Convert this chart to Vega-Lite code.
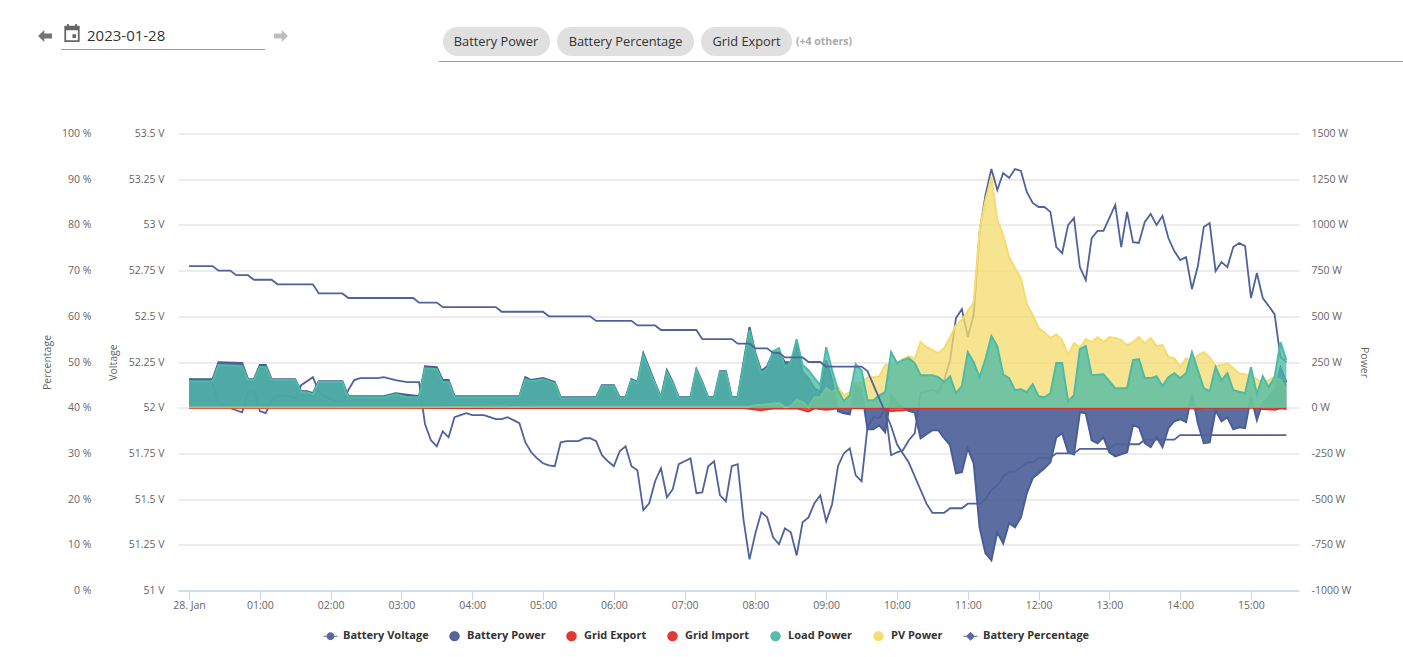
{
  "$schema": "https://vega.github.io/schema/vega-lite/v6.json",
  "description": "Inverter day view for 2023-01-28: battery voltage and percentage, battery, grid, load and PV power.",
  "autosize": {"type": "none"},
  "padding": {"left": 178, "top": 133.5, "right": 104, "bottom": 66.5},
  "width": 1121,
  "height": 457,
  "background": "white",
  "config": {
    "view": {"stroke": null},
    "axis": {"labelFont": "Open Sans", "titleFont": "Open Sans", "labelColor": "#666666", "titleColor": "#666666", "labelFontSize": 10.5, "titleFontSize": 10.5, "titleFontWeight": "normal"}
  },
  "datasets": {
    "voltage": [
      {"t":"2023-01-28T00:00","value":52.156},{"t":"2023-01-28T00:05","value":52.151},{"t":"2023-01-28T00:10","value":52.151},{"t":"2023-01-28T00:15","value":52.151},
      {"t":"2023-01-28T00:20","value":52.134},{"t":"2023-01-28T00:25","value":52.025},{"t":"2023-01-28T00:30","value":52.014},{"t":"2023-01-28T00:35","value":51.997},
      {"t":"2023-01-28T00:40","value":51.986},{"t":"2023-01-28T00:45","value":51.975},{"t":"2023-01-28T00:50","value":52.085},{"t":"2023-01-28T00:55","value":52.096},
      {"t":"2023-01-28T01:00","value":51.981},{"t":"2023-01-28T01:05","value":51.970},{"t":"2023-01-28T01:10","value":52.041},{"t":"2023-01-28T01:15","value":52.063},
      {"t":"2023-01-28T01:20","value":52.068},{"t":"2023-01-28T01:25","value":52.063},{"t":"2023-01-28T01:30","value":52.052},{"t":"2023-01-28T01:35","value":52.123},
      {"t":"2023-01-28T01:40","value":52.145},{"t":"2023-01-28T01:45","value":52.167},{"t":"2023-01-28T01:50","value":52.090},{"t":"2023-01-28T01:55","value":52.063},
      {"t":"2023-01-28T02:00","value":52.047},{"t":"2023-01-28T02:05","value":52.036},{"t":"2023-01-28T02:10","value":52.030},{"t":"2023-01-28T02:15","value":52.096},
      {"t":"2023-01-28T02:20","value":52.151},{"t":"2023-01-28T02:25","value":52.162},{"t":"2023-01-28T02:30","value":52.162},{"t":"2023-01-28T02:35","value":52.162},
      {"t":"2023-01-28T02:40","value":52.162},{"t":"2023-01-28T02:45","value":52.167},{"t":"2023-01-28T02:50","value":52.159},{"t":"2023-01-28T02:55","value":52.151},
      {"t":"2023-01-28T03:00","value":52.145},{"t":"2023-01-28T03:05","value":52.140},{"t":"2023-01-28T03:10","value":52.140},{"t":"2023-01-28T03:15","value":52.140},
      {"t":"2023-01-28T03:20","value":51.910},{"t":"2023-01-28T03:25","value":51.822},{"t":"2023-01-28T03:30","value":51.789},{"t":"2023-01-28T03:35","value":51.871},
      {"t":"2023-01-28T03:40","value":51.838},{"t":"2023-01-28T03:45","value":51.948},{"t":"2023-01-28T03:50","value":51.959},{"t":"2023-01-28T03:55","value":51.970},
      {"t":"2023-01-28T04:00","value":51.959},{"t":"2023-01-28T04:05","value":51.959},{"t":"2023-01-28T04:10","value":51.959},{"t":"2023-01-28T04:15","value":51.948},
      {"t":"2023-01-28T04:20","value":51.937},{"t":"2023-01-28T04:25","value":51.937},{"t":"2023-01-28T04:30","value":51.948},{"t":"2023-01-28T04:35","value":51.932},
      {"t":"2023-01-28T04:40","value":51.915},{"t":"2023-01-28T04:45","value":51.811},{"t":"2023-01-28T04:50","value":51.756},{"t":"2023-01-28T04:55","value":51.723},
      {"t":"2023-01-28T05:00","value":51.696},{"t":"2023-01-28T05:05","value":51.685},{"t":"2023-01-28T05:10","value":51.680},{"t":"2023-01-28T05:15","value":51.811},
      {"t":"2023-01-28T05:20","value":51.817},{"t":"2023-01-28T05:25","value":51.817},{"t":"2023-01-28T05:30","value":51.817},{"t":"2023-01-28T05:35","value":51.833},
      {"t":"2023-01-28T05:40","value":51.833},{"t":"2023-01-28T05:45","value":51.817},{"t":"2023-01-28T05:50","value":51.740},{"t":"2023-01-28T05:55","value":51.707},
      {"t":"2023-01-28T06:00","value":51.680},{"t":"2023-01-28T06:05","value":51.762},{"t":"2023-01-28T06:10","value":51.789},{"t":"2023-01-28T06:15","value":51.680},
      {"t":"2023-01-28T06:20","value":51.658},{"t":"2023-01-28T06:25","value":51.439},{"t":"2023-01-28T06:30","value":51.477},{"t":"2023-01-28T06:35","value":51.598},
      {"t":"2023-01-28T06:40","value":51.669},{"t":"2023-01-28T06:45","value":51.510},{"t":"2023-01-28T06:50","value":51.554},{"t":"2023-01-28T06:55","value":51.691},
      {"t":"2023-01-28T07:00","value":51.707},{"t":"2023-01-28T07:05","value":51.723},{"t":"2023-01-28T07:10","value":51.532},{"t":"2023-01-28T07:15","value":51.537},
      {"t":"2023-01-28T07:20","value":51.680},{"t":"2023-01-28T07:25","value":51.707},{"t":"2023-01-28T07:30","value":51.521},{"t":"2023-01-28T07:35","value":51.488},
      {"t":"2023-01-28T07:40","value":51.680},{"t":"2023-01-28T07:45","value":51.691},{"t":"2023-01-28T07:50","value":51.384},{"t":"2023-01-28T07:55","value":51.170},
      {"t":"2023-01-28T08:00","value":51.313},{"t":"2023-01-28T08:05","value":51.428},{"t":"2023-01-28T08:10","value":51.400},{"t":"2023-01-28T08:15","value":51.291},
      {"t":"2023-01-28T08:20","value":51.253},{"t":"2023-01-28T08:25","value":51.340},{"t":"2023-01-28T08:30","value":51.318},{"t":"2023-01-28T08:35","value":51.192},
      {"t":"2023-01-28T08:40","value":51.373},{"t":"2023-01-28T08:45","value":51.400},{"t":"2023-01-28T08:50","value":51.477},{"t":"2023-01-28T08:55","value":51.521},
      {"t":"2023-01-28T09:00","value":51.378},{"t":"2023-01-28T09:05","value":51.472},{"t":"2023-01-28T09:10","value":51.680},{"t":"2023-01-28T09:15","value":51.751},
      {"t":"2023-01-28T09:20","value":51.778},{"t":"2023-01-28T09:25","value":51.630},{"t":"2023-01-28T09:30","value":51.598},{"t":"2023-01-28T09:35","value":51.893},
      {"t":"2023-01-28T09:40","value":51.948},{"t":"2023-01-28T09:45","value":51.943},{"t":"2023-01-28T09:50","value":51.997},{"t":"2023-01-28T09:55","value":51.740},
      {"t":"2023-01-28T10:00","value":51.756},{"t":"2023-01-28T10:05","value":51.767},{"t":"2023-01-28T10:10","value":51.822},{"t":"2023-01-28T10:15","value":51.860},
      {"t":"2023-01-28T10:20","value":52.079},{"t":"2023-01-28T10:25","value":52.090},{"t":"2023-01-28T10:30","value":52.096},{"t":"2023-01-28T10:35","value":52.085},
      {"t":"2023-01-28T10:40","value":52.151},{"t":"2023-01-28T10:45","value":52.260},{"t":"2023-01-28T10:50","value":52.490},{"t":"2023-01-28T10:55","value":52.539},
      {"t":"2023-01-28T11:00","value":52.386},{"t":"2023-01-28T11:05","value":52.507},{"t":"2023-01-28T11:10","value":52.961},{"t":"2023-01-28T11:15","value":53.164},
      {"t":"2023-01-28T11:20","value":53.306},{"t":"2023-01-28T11:25","value":53.191},{"t":"2023-01-28T11:30","value":53.284},{"t":"2023-01-28T11:35","value":53.257},
      {"t":"2023-01-28T11:40","value":53.306},{"t":"2023-01-28T11:45","value":53.295},{"t":"2023-01-28T11:50","value":53.180},{"t":"2023-01-28T11:55","value":53.120},
      {"t":"2023-01-28T12:00","value":53.098},{"t":"2023-01-28T12:05","value":53.098},{"t":"2023-01-28T12:10","value":53.071},{"t":"2023-01-28T12:15","value":52.879},
      {"t":"2023-01-28T12:20","value":52.846},{"t":"2023-01-28T12:25","value":52.999},{"t":"2023-01-28T12:30","value":53.038},{"t":"2023-01-28T12:35","value":52.769},
      {"t":"2023-01-28T12:40","value":52.698},{"t":"2023-01-28T12:45","value":52.928},{"t":"2023-01-28T12:50","value":52.967},{"t":"2023-01-28T12:55","value":52.967},
      {"t":"2023-01-28T13:00","value":53.038},{"t":"2023-01-28T13:05","value":53.109},{"t":"2023-01-28T13:10","value":52.879},{"t":"2023-01-28T13:15","value":53.071},
      {"t":"2023-01-28T13:20","value":52.906},{"t":"2023-01-28T13:25","value":52.901},{"t":"2023-01-28T13:30","value":53.016},{"t":"2023-01-28T13:35","value":53.060},
      {"t":"2023-01-28T13:40","value":52.999},{"t":"2023-01-28T13:45","value":53.049},{"t":"2023-01-28T13:50","value":52.928},{"t":"2023-01-28T13:55","value":52.857},
      {"t":"2023-01-28T14:00","value":52.808},{"t":"2023-01-28T14:05","value":52.824},{"t":"2023-01-28T14:10","value":52.649},{"t":"2023-01-28T14:15","value":52.775},
      {"t":"2023-01-28T14:20","value":52.988},{"t":"2023-01-28T14:25","value":53.010},{"t":"2023-01-28T14:30","value":52.747},{"t":"2023-01-28T14:35","value":52.797},
      {"t":"2023-01-28T14:40","value":52.769},{"t":"2023-01-28T14:45","value":52.879},{"t":"2023-01-28T14:50","value":52.901},{"t":"2023-01-28T14:55","value":52.884},
      {"t":"2023-01-28T15:00","value":52.600},{"t":"2023-01-28T15:05","value":52.737},{"t":"2023-01-28T15:10","value":52.600},{"t":"2023-01-28T15:15","value":52.556},
      {"t":"2023-01-28T15:20","value":52.512},{"t":"2023-01-28T15:25","value":52.277},{"t":"2023-01-28T15:30","value":52.249}
    ],
    "battery": [
      {"t":"2023-01-28T00:00","value":156},{"t":"2023-01-28T00:20","value":156},{"t":"2023-01-28T00:25","value":249},{"t":"2023-01-28T00:45","value":244},{"t":"2023-01-28T00:50","value":156},{"t":"2023-01-28T00:55","value":156},
      {"t":"2023-01-28T01:00","value":233},{"t":"2023-01-28T01:05","value":233},{"t":"2023-01-28T01:10","value":156},{"t":"2023-01-28T01:30","value":156},{"t":"2023-01-28T01:35","value":90},{"t":"2023-01-28T01:40","value":90},{"t":"2023-01-28T01:45","value":79},{"t":"2023-01-28T01:50","value":145},
      {"t":"2023-01-28T02:10","value":145},{"t":"2023-01-28T02:15","value":63},{"t":"2023-01-28T02:45","value":63},{"t":"2023-01-28T02:55","value":79},{"t":"2023-01-28T03:15","value":63},{"t":"2023-01-28T03:20","value":227},{"t":"2023-01-28T03:30","value":222},{"t":"2023-01-28T03:35","value":151},{"t":"2023-01-28T03:40","value":151},{"t":"2023-01-28T03:45","value":63},
      {"t":"2023-01-28T04:40","value":63},{"t":"2023-01-28T04:45","value":167},{"t":"2023-01-28T04:50","value":151},{"t":"2023-01-28T05:00","value":162},{"t":"2023-01-28T05:10","value":140},{"t":"2023-01-28T05:15","value":57},{"t":"2023-01-28T05:45","value":57},{"t":"2023-01-28T05:50","value":123},
      {"t":"2023-01-28T06:00","value":123},{"t":"2023-01-28T06:05","value":57},{"t":"2023-01-28T06:10","value":57},{"t":"2023-01-28T06:15","value":156},{"t":"2023-01-28T06:20","value":140},{"t":"2023-01-28T06:25","value":298},{"t":"2023-01-28T06:30","value":216},{"t":"2023-01-28T06:35","value":134},{"t":"2023-01-28T06:40","value":57},{"t":"2023-01-28T06:45","value":205},{"t":"2023-01-28T06:50","value":140},{"t":"2023-01-28T06:55","value":57},
      {"t":"2023-01-28T07:05","value":57},{"t":"2023-01-28T07:10","value":211},{"t":"2023-01-28T07:15","value":140},{"t":"2023-01-28T07:20","value":57},{"t":"2023-01-28T07:25","value":57},{"t":"2023-01-28T07:30","value":200},{"t":"2023-01-28T07:35","value":200},{"t":"2023-01-28T07:40","value":57},{"t":"2023-01-28T07:45","value":57},{"t":"2023-01-28T07:50","value":249},{"t":"2023-01-28T07:55","value":441},
      {"t":"2023-01-28T08:00","value":298},{"t":"2023-01-28T08:05","value":200},{"t":"2023-01-28T08:10","value":227},{"t":"2023-01-28T08:15","value":304},{"t":"2023-01-28T08:20","value":304},{"t":"2023-01-28T08:25","value":249},{"t":"2023-01-28T08:30","value":249},{"t":"2023-01-28T08:35","value":342},{"t":"2023-01-28T08:40","value":194},{"t":"2023-01-28T08:45","value":162},{"t":"2023-01-28T08:50","value":107},{"t":"2023-01-28T08:55","value":85},
      {"t":"2023-01-28T09:00","value":260},{"t":"2023-01-28T09:05","value":151},{"t":"2023-01-28T09:10","value":-19},{"t":"2023-01-28T09:15","value":-30},{"t":"2023-01-28T09:20","value":-36},{"t":"2023-01-28T09:25","value":123},{"t":"2023-01-28T09:30","value":96},{"t":"2023-01-28T09:35","value":-118},{"t":"2023-01-28T09:40","value":-118},{"t":"2023-01-28T09:45","value":-96},{"t":"2023-01-28T09:50","value":-134},{"t":"2023-01-28T09:55","value":68},
      {"t":"2023-01-28T10:00","value":25},{"t":"2023-01-28T10:05","value":3},{"t":"2023-01-28T10:10","value":-19},{"t":"2023-01-28T10:15","value":-25},{"t":"2023-01-28T10:20","value":-167},{"t":"2023-01-28T10:25","value":-145},{"t":"2023-01-28T10:30","value":-123},{"t":"2023-01-28T10:35","value":-123},{"t":"2023-01-28T10:40","value":-167},{"t":"2023-01-28T10:45","value":-205},{"t":"2023-01-28T10:50","value":-359},{"t":"2023-01-28T10:55","value":-353},
      {"t":"2023-01-28T11:00","value":-222},{"t":"2023-01-28T11:05","value":-304},{"t":"2023-01-28T11:10","value":-654},{"t":"2023-01-28T11:15","value":-797},{"t":"2023-01-28T11:20","value":-835},{"t":"2023-01-28T11:25","value":-682},{"t":"2023-01-28T11:30","value":-742},{"t":"2023-01-28T11:35","value":-632},{"t":"2023-01-28T11:40","value":-654},{"t":"2023-01-28T11:45","value":-600},{"t":"2023-01-28T11:50","value":-468},{"t":"2023-01-28T11:55","value":-386},
      {"t":"2023-01-28T12:00","value":-359},{"t":"2023-01-28T12:05","value":-331},{"t":"2023-01-28T12:10","value":-298},{"t":"2023-01-28T12:15","value":-162},{"t":"2023-01-28T12:20","value":-140},{"t":"2023-01-28T12:25","value":-244},{"t":"2023-01-28T12:30","value":-255},{"t":"2023-01-28T12:35","value":-25},{"t":"2023-01-28T12:40","value":-30},{"t":"2023-01-28T12:45","value":-178},{"t":"2023-01-28T12:50","value":-194},{"t":"2023-01-28T12:55","value":-162},
      {"t":"2023-01-28T13:00","value":-244},{"t":"2023-01-28T13:05","value":-266},{"t":"2023-01-28T13:10","value":-255},{"t":"2023-01-28T13:15","value":-244},{"t":"2023-01-28T13:20","value":-96},{"t":"2023-01-28T13:25","value":-107},{"t":"2023-01-28T13:30","value":-194},{"t":"2023-01-28T13:35","value":-216},{"t":"2023-01-28T13:40","value":-162},{"t":"2023-01-28T13:45","value":-216},{"t":"2023-01-28T13:50","value":-112},{"t":"2023-01-28T13:55","value":-74},
      {"t":"2023-01-28T14:00","value":-63},{"t":"2023-01-28T14:05","value":-79},{"t":"2023-01-28T14:10","value":79},{"t":"2023-01-28T14:15","value":-85},{"t":"2023-01-28T14:20","value":-194},{"t":"2023-01-28T14:25","value":-189},{"t":"2023-01-28T14:30","value":-14},{"t":"2023-01-28T14:35","value":-74},{"t":"2023-01-28T14:40","value":-52},{"t":"2023-01-28T14:45","value":-118},{"t":"2023-01-28T14:50","value":-107},{"t":"2023-01-28T14:55","value":-112},
      {"t":"2023-01-28T15:00","value":63},{"t":"2023-01-28T15:05","value":-68},{"t":"2023-01-28T15:10","value":30},{"t":"2023-01-28T15:15","value":57},{"t":"2023-01-28T15:20","value":96},{"t":"2023-01-28T15:25","value":222},{"t":"2023-01-28T15:30","value":140}
    ],
    "gridExport": [
      {"t":"2023-01-28T00:00","value":-3},{"t":"2023-01-28T07:50","value":-3},{"t":"2023-01-28T08:05","value":-15},{"t":"2023-01-28T08:15","value":-6},{"t":"2023-01-28T08:35","value":-4},{"t":"2023-01-28T08:45","value":-22},{"t":"2023-01-28T08:50","value":-5},{"t":"2023-01-28T09:00","value":-12},{"t":"2023-01-28T09:10","value":-4},{"t":"2023-01-28T09:45","value":-4},{"t":"2023-01-28T09:55","value":-20},{"t":"2023-01-28T10:05","value":-15},{"t":"2023-01-28T10:15","value":-3},
      {"t":"2023-01-28T14:10","value":-5},{"t":"2023-01-28T14:15","value":-10},{"t":"2023-01-28T14:20","value":0},{"t":"2023-01-28T15:00","value":0},{"t":"2023-01-28T15:10","value":-8},{"t":"2023-01-28T15:20","value":-12},{"t":"2023-01-28T15:25","value":-5},{"t":"2023-01-28T15:30","value":-8}
    ],
    "gridImport": [
      {"t":"2023-01-28T00:00","value":0},{"t":"2023-01-28T15:30","value":0}
    ],
    "load": [
      {"t":"2023-01-28T00:00","value":145},{"t":"2023-01-28T00:20","value":145},{"t":"2023-01-28T00:25","value":233},{"t":"2023-01-28T00:45","value":227},{"t":"2023-01-28T00:50","value":151},{"t":"2023-01-28T00:55","value":151},
      {"t":"2023-01-28T01:00","value":222},{"t":"2023-01-28T01:05","value":222},{"t":"2023-01-28T01:10","value":151},{"t":"2023-01-28T01:30","value":151},{"t":"2023-01-28T01:35","value":85},{"t":"2023-01-28T01:40","value":85},{"t":"2023-01-28T01:45","value":74},{"t":"2023-01-28T01:50","value":140},
      {"t":"2023-01-28T02:10","value":140},{"t":"2023-01-28T02:15","value":57},{"t":"2023-01-28T02:45","value":57},{"t":"2023-01-28T02:55","value":74},{"t":"2023-01-28T03:05","value":57},{"t":"2023-01-28T03:15","value":57},{"t":"2023-01-28T03:20","value":216},{"t":"2023-01-28T03:30","value":211},{"t":"2023-01-28T03:35","value":140},{"t":"2023-01-28T03:40","value":140},{"t":"2023-01-28T03:45","value":57},
      {"t":"2023-01-28T04:40","value":57},{"t":"2023-01-28T04:45","value":156},{"t":"2023-01-28T04:50","value":145},{"t":"2023-01-28T05:00","value":156},{"t":"2023-01-28T05:10","value":134},{"t":"2023-01-28T05:15","value":52},{"t":"2023-01-28T05:45","value":52},{"t":"2023-01-28T05:50","value":118},
      {"t":"2023-01-28T06:00","value":118},{"t":"2023-01-28T06:05","value":52},{"t":"2023-01-28T06:10","value":52},{"t":"2023-01-28T06:15","value":151},{"t":"2023-01-28T06:20","value":134},{"t":"2023-01-28T06:25","value":287},{"t":"2023-01-28T06:30","value":205},{"t":"2023-01-28T06:35","value":129},{"t":"2023-01-28T06:40","value":52},{"t":"2023-01-28T06:45","value":194},{"t":"2023-01-28T06:50","value":134},{"t":"2023-01-28T06:55","value":52},
      {"t":"2023-01-28T07:05","value":52},{"t":"2023-01-28T07:10","value":205},{"t":"2023-01-28T07:15","value":134},{"t":"2023-01-28T07:20","value":52},{"t":"2023-01-28T07:25","value":52},{"t":"2023-01-28T07:30","value":194},{"t":"2023-01-28T07:35","value":194},{"t":"2023-01-28T07:40","value":52},{"t":"2023-01-28T07:45","value":52},{"t":"2023-01-28T07:50","value":238},{"t":"2023-01-28T07:55","value":424},
      {"t":"2023-01-28T08:00","value":287},{"t":"2023-01-28T08:05","value":189},{"t":"2023-01-28T08:10","value":216},{"t":"2023-01-28T08:15","value":309},{"t":"2023-01-28T08:20","value":326},{"t":"2023-01-28T08:25","value":222},{"t":"2023-01-28T08:30","value":249},{"t":"2023-01-28T08:35","value":375},{"t":"2023-01-28T08:40","value":233},{"t":"2023-01-28T08:45","value":205},{"t":"2023-01-28T08:50","value":162},{"t":"2023-01-28T08:55","value":123},
      {"t":"2023-01-28T09:00","value":331},{"t":"2023-01-28T09:05","value":205},{"t":"2023-01-28T09:10","value":96},{"t":"2023-01-28T09:15","value":36},{"t":"2023-01-28T09:20","value":68},{"t":"2023-01-28T09:25","value":238},{"t":"2023-01-28T09:30","value":205},{"t":"2023-01-28T09:35","value":41},{"t":"2023-01-28T09:40","value":41},{"t":"2023-01-28T09:45","value":68},{"t":"2023-01-28T09:50","value":85},{"t":"2023-01-28T09:55","value":304},
      {"t":"2023-01-28T10:00","value":244},{"t":"2023-01-28T10:05","value":260},{"t":"2023-01-28T10:10","value":271},{"t":"2023-01-28T10:15","value":244},{"t":"2023-01-28T10:20","value":178},{"t":"2023-01-28T10:30","value":178},{"t":"2023-01-28T10:35","value":167},{"t":"2023-01-28T10:40","value":140},{"t":"2023-01-28T10:45","value":172},{"t":"2023-01-28T10:50","value":79},{"t":"2023-01-28T10:55","value":118},
      {"t":"2023-01-28T11:00","value":304},{"t":"2023-01-28T11:05","value":249},{"t":"2023-01-28T11:10","value":167},{"t":"2023-01-28T11:15","value":266},{"t":"2023-01-28T11:20","value":392},{"t":"2023-01-28T11:25","value":337},{"t":"2023-01-28T11:30","value":183},{"t":"2023-01-28T11:35","value":162},{"t":"2023-01-28T11:40","value":96},{"t":"2023-01-28T11:45","value":101},{"t":"2023-01-28T11:50","value":85},{"t":"2023-01-28T11:55","value":129},
      {"t":"2023-01-28T12:00","value":63},{"t":"2023-01-28T12:05","value":57},{"t":"2023-01-28T12:10","value":79},{"t":"2023-01-28T12:15","value":244},{"t":"2023-01-28T12:20","value":244},{"t":"2023-01-28T12:25","value":36},{"t":"2023-01-28T12:30","value":68},{"t":"2023-01-28T12:35","value":320},{"t":"2023-01-28T12:40","value":337},{"t":"2023-01-28T12:45","value":178},{"t":"2023-01-28T12:55","value":183},
      {"t":"2023-01-28T13:05","value":107},{"t":"2023-01-28T13:15","value":107},{"t":"2023-01-28T13:20","value":260},{"t":"2023-01-28T13:25","value":266},{"t":"2023-01-28T13:30","value":162},{"t":"2023-01-28T13:35","value":162},{"t":"2023-01-28T13:40","value":172},{"t":"2023-01-28T13:45","value":118},{"t":"2023-01-28T13:50","value":167},{"t":"2023-01-28T13:55","value":189},
      {"t":"2023-01-28T14:00","value":162},{"t":"2023-01-28T14:05","value":189},{"t":"2023-01-28T14:10","value":304},{"t":"2023-01-28T14:15","value":205},{"t":"2023-01-28T14:20","value":107},{"t":"2023-01-28T14:25","value":90},{"t":"2023-01-28T14:30","value":222},{"t":"2023-01-28T14:35","value":151},{"t":"2023-01-28T14:40","value":189},{"t":"2023-01-28T14:45","value":96},{"t":"2023-01-28T14:55","value":79},
      {"t":"2023-01-28T15:00","value":222},{"t":"2023-01-28T15:05","value":74},{"t":"2023-01-28T15:10","value":172},{"t":"2023-01-28T15:15","value":112},{"t":"2023-01-28T15:20","value":167},{"t":"2023-01-28T15:25","value":359},{"t":"2023-01-28T15:30","value":260}
    ],
    "pv": [
      {"t":"2023-01-28T00:00","value":3},{"t":"2023-01-28T03:00","value":3},{"t":"2023-01-28T05:00","value":5},{"t":"2023-01-28T07:55","value":5},{"t":"2023-01-28T08:00","value":14},{"t":"2023-01-28T08:10","value":19},{"t":"2023-01-28T08:20","value":25},{"t":"2023-01-28T08:25","value":3},{"t":"2023-01-28T08:30","value":8},{"t":"2023-01-28T08:35","value":41},{"t":"2023-01-28T08:40","value":30},{"t":"2023-01-28T08:45","value":3},{"t":"2023-01-28T08:50","value":57},{"t":"2023-01-28T08:55","value":57},
      {"t":"2023-01-28T09:00","value":107},{"t":"2023-01-28T09:05","value":85},{"t":"2023-01-28T09:10","value":112},{"t":"2023-01-28T09:15","value":68},{"t":"2023-01-28T09:20","value":85},{"t":"2023-01-28T09:25","value":140},{"t":"2023-01-28T09:30","value":134},{"t":"2023-01-28T09:35","value":167},{"t":"2023-01-28T09:40","value":167},{"t":"2023-01-28T09:45","value":172},{"t":"2023-01-28T09:50","value":233},{"t":"2023-01-28T09:55","value":238},
      {"t":"2023-01-28T10:00","value":244},{"t":"2023-01-28T10:05","value":266},{"t":"2023-01-28T10:10","value":282},{"t":"2023-01-28T10:15","value":266},{"t":"2023-01-28T10:20","value":359},{"t":"2023-01-28T10:25","value":331},{"t":"2023-01-28T10:30","value":315},{"t":"2023-01-28T10:35","value":298},{"t":"2023-01-28T10:40","value":326},{"t":"2023-01-28T10:45","value":386},{"t":"2023-01-28T10:50","value":452},{"t":"2023-01-28T10:55","value":479},
      {"t":"2023-01-28T11:00","value":528},{"t":"2023-01-28T11:05","value":578},{"t":"2023-01-28T11:10","value":972},{"t":"2023-01-28T11:15","value":1136},{"t":"2023-01-28T11:20","value":1262},{"t":"2023-01-28T11:25","value":1027},{"t":"2023-01-28T11:30","value":945},{"t":"2023-01-28T11:35","value":824},{"t":"2023-01-28T11:40","value":764},{"t":"2023-01-28T11:45","value":709},{"t":"2023-01-28T11:50","value":567},{"t":"2023-01-28T11:55","value":507},
      {"t":"2023-01-28T12:00","value":435},{"t":"2023-01-28T12:05","value":413},{"t":"2023-01-28T12:10","value":381},{"t":"2023-01-28T12:15","value":402},{"t":"2023-01-28T12:20","value":370},{"t":"2023-01-28T12:25","value":287},{"t":"2023-01-28T12:30","value":353},{"t":"2023-01-28T12:35","value":326},{"t":"2023-01-28T12:40","value":375},{"t":"2023-01-28T12:45","value":359},{"t":"2023-01-28T12:50","value":386},{"t":"2023-01-28T12:55","value":359},
      {"t":"2023-01-28T13:00","value":386},{"t":"2023-01-28T13:05","value":381},{"t":"2023-01-28T13:10","value":370},{"t":"2023-01-28T13:15","value":342},{"t":"2023-01-28T13:20","value":359},{"t":"2023-01-28T13:25","value":386},{"t":"2023-01-28T13:30","value":353},{"t":"2023-01-28T13:35","value":381},{"t":"2023-01-28T13:40","value":337},{"t":"2023-01-28T13:45","value":342},{"t":"2023-01-28T13:50","value":277},{"t":"2023-01-28T13:55","value":271},
      {"t":"2023-01-28T14:00","value":222},{"t":"2023-01-28T14:05","value":271},{"t":"2023-01-28T14:10","value":249},{"t":"2023-01-28T14:15","value":287},{"t":"2023-01-28T14:20","value":304},{"t":"2023-01-28T14:25","value":277},{"t":"2023-01-28T14:30","value":227},{"t":"2023-01-28T14:35","value":233},{"t":"2023-01-28T14:40","value":244},{"t":"2023-01-28T14:45","value":216},{"t":"2023-01-28T14:50","value":189},{"t":"2023-01-28T14:55","value":183},
      {"t":"2023-01-28T15:00","value":172},{"t":"2023-01-28T15:05","value":156},{"t":"2023-01-28T15:10","value":134},{"t":"2023-01-28T15:15","value":151},{"t":"2023-01-28T15:20","value":167},{"t":"2023-01-28T15:25","value":151},{"t":"2023-01-28T15:30","value":96}
    ],
    "percent": [
      {"t":"2023-01-28T00:00","value":71},{"t":"2023-01-28T00:20","value":71},{"t":"2023-01-28T00:25","value":70},{"t":"2023-01-28T00:35","value":70},{"t":"2023-01-28T00:40","value":69},{"t":"2023-01-28T00:50","value":69},{"t":"2023-01-28T00:55","value":68},{"t":"2023-01-28T01:10","value":68},{"t":"2023-01-28T01:15","value":67},{"t":"2023-01-28T01:45","value":67},{"t":"2023-01-28T01:50","value":65},{"t":"2023-01-28T02:10","value":65},{"t":"2023-01-28T02:15","value":64},
      {"t":"2023-01-28T03:10","value":64},{"t":"2023-01-28T03:15","value":63},{"t":"2023-01-28T03:30","value":63},{"t":"2023-01-28T03:35","value":62},{"t":"2023-01-28T04:20","value":62},{"t":"2023-01-28T04:25","value":61},{"t":"2023-01-28T05:00","value":61},{"t":"2023-01-28T05:05","value":60},{"t":"2023-01-28T05:40","value":60},{"t":"2023-01-28T05:45","value":59},{"t":"2023-01-28T06:15","value":59},{"t":"2023-01-28T06:20","value":58},{"t":"2023-01-28T06:35","value":58},{"t":"2023-01-28T06:40","value":57},{"t":"2023-01-28T07:10","value":57},{"t":"2023-01-28T07:15","value":55},{"t":"2023-01-28T07:40","value":55},{"t":"2023-01-28T07:45","value":54},{"t":"2023-01-28T07:55","value":54},{"t":"2023-01-28T08:00","value":53},{"t":"2023-01-28T08:10","value":53},{"t":"2023-01-28T08:15","value":52},{"t":"2023-01-28T08:20","value":52},{"t":"2023-01-28T08:25","value":51},{"t":"2023-01-28T08:40","value":51},{"t":"2023-01-28T08:45","value":50},{"t":"2023-01-28T08:55","value":50},{"t":"2023-01-28T09:00","value":49},{"t":"2023-01-28T09:30","value":49},
      {"t":"2023-01-28T09:35","value":48},{"t":"2023-01-28T09:40","value":45},{"t":"2023-01-28T09:45","value":42},{"t":"2023-01-28T09:50","value":39},{"t":"2023-01-28T09:55","value":36},{"t":"2023-01-28T10:00","value":32},{"t":"2023-01-28T10:05","value":30},{"t":"2023-01-28T10:10","value":28},{"t":"2023-01-28T10:15","value":25},{"t":"2023-01-28T10:20","value":22},{"t":"2023-01-28T10:25","value":19},{"t":"2023-01-28T10:30","value":17},{"t":"2023-01-28T10:40","value":17},{"t":"2023-01-28T10:45","value":18},{"t":"2023-01-28T10:55","value":18},{"t":"2023-01-28T11:00","value":19},{"t":"2023-01-28T11:10","value":19},{"t":"2023-01-28T11:15","value":20},{"t":"2023-01-28T11:20","value":22},{"t":"2023-01-28T11:25","value":23},{"t":"2023-01-28T11:30","value":25},{"t":"2023-01-28T11:35","value":26},{"t":"2023-01-28T11:40","value":26},{"t":"2023-01-28T11:45","value":27},{"t":"2023-01-28T11:50","value":28},{"t":"2023-01-28T11:55","value":28},{"t":"2023-01-28T12:00","value":29},{"t":"2023-01-28T12:10","value":29},{"t":"2023-01-28T12:15","value":30},{"t":"2023-01-28T12:30","value":30},{"t":"2023-01-28T12:35","value":31},{"t":"2023-01-28T13:00","value":31},{"t":"2023-01-28T13:05","value":32},{"t":"2023-01-28T13:25","value":32},{"t":"2023-01-28T13:30","value":33},{"t":"2023-01-28T13:55","value":33},{"t":"2023-01-28T14:00","value":34},{"t":"2023-01-28T15:30","value":34}
    ]
  },
  "layer": [
    {
      "resolve": {"scale": {"y": "independent"}},
      "encoding": {
        "x": {
          "field": "t",
          "type": "temporal",
          "title": null,
          "scale": {"domain": [{"year":2023,"month":1,"date":27,"hours":23,"minutes":50,"seconds":40}, {"year":2023,"month":1,"date":28,"hours":15,"minutes":40,"seconds":42}]},
          "axis": {
            "values": [
              {"year":2023,"month":1,"date":28,"hours":0},{"year":2023,"month":1,"date":28,"hours":1},{"year":2023,"month":1,"date":28,"hours":2},{"year":2023,"month":1,"date":28,"hours":3},
              {"year":2023,"month":1,"date":28,"hours":4},{"year":2023,"month":1,"date":28,"hours":5},{"year":2023,"month":1,"date":28,"hours":6},{"year":2023,"month":1,"date":28,"hours":7},
              {"year":2023,"month":1,"date":28,"hours":8},{"year":2023,"month":1,"date":28,"hours":9},{"year":2023,"month":1,"date":28,"hours":10},{"year":2023,"month":1,"date":28,"hours":11},
              {"year":2023,"month":1,"date":28,"hours":12},{"year":2023,"month":1,"date":28,"hours":13},{"year":2023,"month":1,"date":28,"hours":14},{"year":2023,"month":1,"date":28,"hours":15}
            ],
            "format": "%H:%M",
            "labelExpr": "datum.label === '00:00' ? '28. Jan' : datum.label",
            "grid": false,
            "domainColor": "#ccd6eb",
            "domainWidth": 1.5,
            "tickColor": "#ccd6eb",
            "tickSize": 9,
            "labelPadding": 1,
            "labelFlush": false,
            "labelOverlap": false
          }
        }
      },
      "layer": [
        {
          "data": {"name": "voltage"},
          "mark": {"type": "line", "strokeWidth": 1.8},
          "encoding": {
            "y": {
              "field": "value",
              "type": "quantitative",
              "title": "Voltage",
              "scale": {"domain": [51, 53.5], "nice": false, "zero": false},
              "axis": {
                "orient": "left",
                "values": [51, 51.25, 51.5, 51.75, 52, 52.25, 52.5, 52.75, 53, 53.25, 53.5],
                "labelExpr": "datum.value + ' V'",
                "domain": false,
                "ticks": false,
                "labelPadding": 14,
                "titlePadding": 10,
                "labelColor": "#666666",
                "grid": true,
                "gridColor": "#e6e6e6",
                "gridWidth": 1.5
              }
            },
            "color": {
              "datum": "Battery Voltage",
              "type": "nominal",
              "scale": {
                "domain": ["Battery Voltage", "Battery Power", "Grid Export", "Grid Import", "Load Power", "PV Power", "Battery Percentage"],
                "range": ["#4f629b", "#4a5d97", "#e32c27", "#e32c27", "#4cbba6", "#f5dc6e", "#4f629b"]
              },
              "legend": {
                "orient": "none",
                "legendX": 147,
                "legendY": 497,
                "direction": "horizontal",
                "columns": 7,
                "title": null,
                "columnPadding": 20,
                "symbolSize": 110,
                "symbolOpacity": 0.95,
                "symbolStrokeWidth": 0,
                "labelOffset": 7,
                "labelFont": "Open Sans",
                "labelFontSize": 11,
                "labelFontWeight": "bold",
                "labelColor": "#333333",
                "labelLimit": 200
              }
            }
          }
        },
        {
          "data": {"values": [{"series": "legend key"}]},
          "mark": {"type": "point", "opacity": 0, "filled": true},
          "encoding": {
            "shape": {
              "datum": "Battery Voltage",
              "type": "nominal",
              "legend": {"title": null},
              "scale": {
                "domain": ["Battery Voltage", "Battery Power", "Grid Export", "Grid Import", "Load Power", "PV Power", "Battery Percentage"],
                "range": [
                  "M-1.35,-.1H1.35V.1H-1.35Z M-.75,0A.75,.75 0 1,1 .75,0A.75,.75 0 1,1 -.75,0Z",
                  "circle", "circle", "circle", "circle", "circle",
                  "M-1.35,-.1H1.35V.1H-1.35Z M0,-.85L.85,0L0,.85L-.85,0Z"
                ]
              }
            },
            "color": {"datum": "Battery Voltage", "type": "nominal"}
          }
        },
        {
          "encoding": {
            "y": {
              "field": "value",
              "type": "quantitative",
              "title": "Power",
              "scale": {"domain": [-1000, 1500], "nice": false},
              "axis": {
                "orient": "right",
                "values": [-1000, -750, -500, -250, 0, 250, 500, 750, 1000, 1250, 1500],
                "labelExpr": "datum.value + ' W'",
                "domain": false,
                "ticks": false,
                "grid": false,
                "labelPadding": 12,
                "titlePadding": 8
              }
            }
          },
          "layer": [
            {
              "data": {"name": "battery"},
              "mark": {"type": "area", "fillOpacity": 0.9, "line": {"strokeWidth": 2}},
              "encoding": {"color": {"datum": "Battery Power", "type": "nominal"}}
            },
            {
              "data": {"name": "gridExport"},
              "mark": {"type": "area", "fillOpacity": 0.8, "line": {"strokeWidth": 1.5}},
              "encoding": {"color": {"datum": "Grid Export", "type": "nominal"}}
            },
            {
              "data": {"name": "gridImport"},
              "mark": {"type": "area", "fillOpacity": 0.8, "line": {"strokeWidth": 1.5}},
              "encoding": {"color": {"datum": "Grid Import", "type": "nominal"}}
            },
            {
              "data": {"name": "pv"},
              "mark": {"type": "area", "fillOpacity": 0.76, "line": {"strokeWidth": 2}},
              "encoding": {"color": {"datum": "PV Power", "type": "nominal"}}
            },
            {
              "data": {"name": "load"},
              "mark": {"type": "area", "fillOpacity": 0.77, "line": {"strokeWidth": 2}},
              "encoding": {"color": {"datum": "Load Power", "type": "nominal"}}
            }
          ]
        },
        {
          "data": {"name": "percent"},
          "mark": {"type": "line", "strokeWidth": 1.8},
          "encoding": {
            "y": {
              "field": "value",
              "type": "quantitative",
              "title": "Percentage",
              "scale": {"domain": [0, 100], "nice": false},
              "axis": {
                "orient": "left",
                "offset": 73,
                "values": [0, 10, 20, 30, 40, 50, 60, 70, 80, 90, 100],
                "labelExpr": "datum.value + ' %'",
                "domain": false,
                "ticks": false,
                "grid": false,
                "labelColor": "#666666",
                "labelPadding": 14,
                "titlePadding": 9
              }
            },
            "color": {"datum": "Battery Percentage", "type": "nominal"}
          }
        }
      ]
    },
    {
      "data": {"values": [{}]},
      "layer": [
        {
          "mark": {"type": "rule", "color": "#999999", "strokeWidth": 1},
          "encoding": {
            "x": {"datum": 61, "type": "quantitative", "axis": null, "scale": {"domain": [0, 1403], "range": [-178, 1225], "nice": false, "zero": false}},
            "x2": {"datum": 265},
            "y": {"datum": 49.5, "type": "quantitative", "axis": null, "scale": {"domain": [0, 657], "range": [-133.5, 523.5], "nice": false, "zero": false}}
          }
        },
        {
          "mark": {"type": "rule", "color": "#999999", "strokeWidth": 1},
          "encoding": {"x": {"datum": 439, "type": "quantitative", "axis": null}, "x2": {"datum": 1403}, "y": {"datum": 61.5, "type": "quantitative", "axis": null}}
        },
        {
          "mark": {"type": "rule", "color": "#e0e0e0", "strokeWidth": 29, "strokeCap": "round"},
          "encoding": {"x": {"datum": 457.5, "type": "quantitative", "axis": null}, "x2": {"datum": 535.5}, "y": {"datum": 41.5, "type": "quantitative", "axis": null}}
        },
        {
          "mark": {"type": "rule", "color": "#e0e0e0", "strokeWidth": 29, "strokeCap": "round"},
          "encoding": {"x": {"datum": 571.5, "type": "quantitative", "axis": null}, "x2": {"datum": 679.5}, "y": {"datum": 41.5, "type": "quantitative", "axis": null}}
        },
        {
          "mark": {"type": "rule", "color": "#e0e0e0", "strokeWidth": 29, "strokeCap": "round"},
          "encoding": {"x": {"datum": 715.5, "type": "quantitative", "axis": null}, "x2": {"datum": 777.5}, "y": {"datum": 41.5, "type": "quantitative", "axis": null}}
        },
        {
          "mark": {"type": "point", "filled": true, "opacity": 1, "color": "#757575", "size": 196, "shape": "M-1,0L-.1,-.85V-.35H1V.35H-.1V.85Z"},
          "encoding": {"x": {"datum": 45, "type": "quantitative", "axis": null}, "y": {"datum": 36, "type": "quantitative", "axis": null}}
        },
        {
          "mark": {"type": "point", "filled": true, "opacity": 1, "color": "#bdbdbd", "size": 196, "shape": "M1,0L.1,-.85V-.35H-1V.35H.1V.85Z"},
          "encoding": {"x": {"datum": 281, "type": "quantitative", "axis": null}, "y": {"datum": 36, "type": "quantitative", "axis": null}}
        },
        {
          "mark": {"type": "point", "filled": true, "opacity": 1, "color": "#666666", "size": 324, "shape": "M-.85,-.8H.85V1H-.85Z M-.65,-.3V.8H.65V-.3Z M.05,.15H.45V.55H.05Z M-.55,-1H-.35V-.7H-.55Z M.35,-1H.55V-.7H.35Z"},
          "encoding": {"x": {"datum": 72, "type": "quantitative", "axis": null}, "y": {"datum": 33, "type": "quantitative", "axis": null}}
        },
        {
          "data": {"values": [{"label": "2023-01-28"}]},
          "mark": {"type": "text", "align": "left", "font": "Open Sans", "fontSize": 15, "color": "#333333"},
          "encoding": {"text": {"field": "label"}, "x": {"datum": 87, "type": "quantitative", "axis": null}, "y": {"datum": 35.5, "type": "quantitative", "axis": null}}
        },
        {
          "data": {"values": [{"label": "Battery Power"}]},
          "mark": {"type": "text", "font": "Open Sans", "fontSize": 12.8, "color": "#333333"},
          "encoding": {"text": {"field": "label"}, "x": {"datum": 496, "type": "quantitative", "axis": null}, "y": {"datum": 42, "type": "quantitative", "axis": null}}
        },
        {
          "data": {"values": [{"label": "Battery Percentage"}]},
          "mark": {"type": "text", "font": "Open Sans", "fontSize": 12.8, "color": "#333333"},
          "encoding": {"text": {"field": "label"}, "x": {"datum": 625.5, "type": "quantitative", "axis": null}, "y": {"datum": 42, "type": "quantitative", "axis": null}}
        },
        {
          "data": {"values": [{"label": "Grid Export"}]},
          "mark": {"type": "text", "font": "Open Sans", "fontSize": 12.8, "color": "#333333"},
          "encoding": {"text": {"field": "label"}, "x": {"datum": 746.5, "type": "quantitative", "axis": null}, "y": {"datum": 42, "type": "quantitative", "axis": null}}
        },
        {
          "data": {"values": [{"label": "(+4 others)"}]},
          "mark": {"type": "text", "align": "left", "font": "Open Sans", "fontSize": 10.5, "fontWeight": "bold", "color": "#aaaaaa"},
          "encoding": {"text": {"field": "label"}, "x": {"datum": 796, "type": "quantitative", "axis": null}, "y": {"datum": 42, "type": "quantitative", "axis": null}}
        }
      ]
    }
  ],
  "resolve": {"scale": {"x": "independent", "y": "independent"}}
}
